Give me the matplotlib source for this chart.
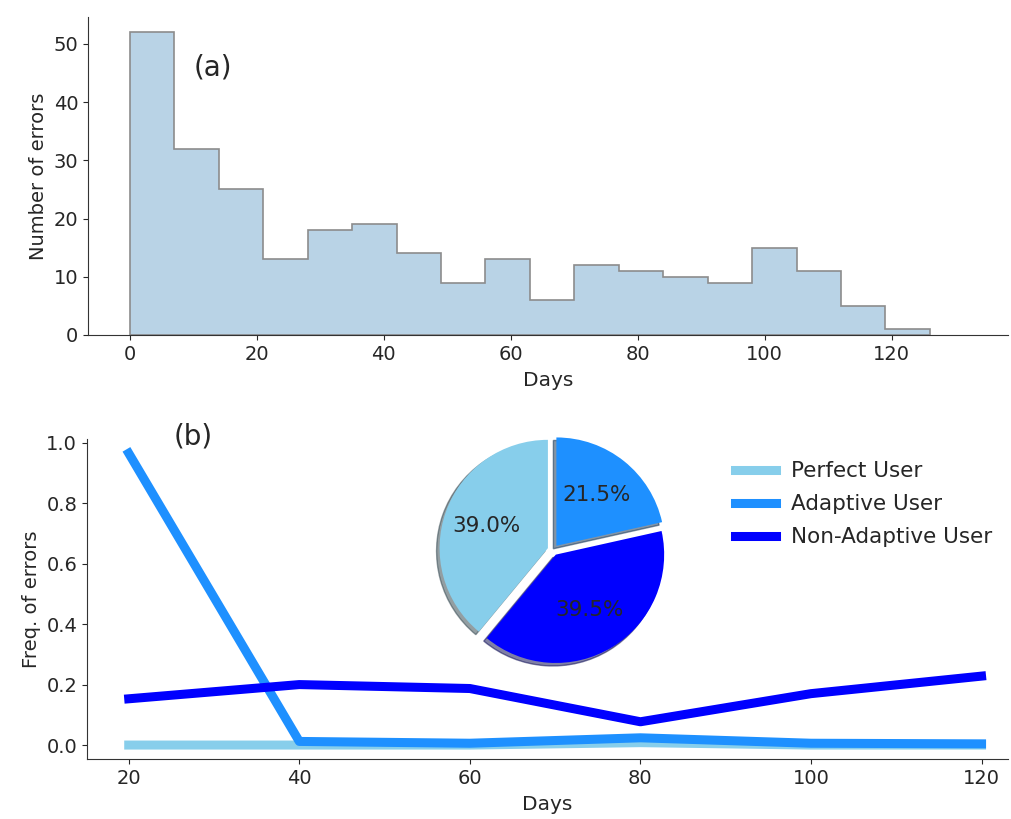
import numpy as np
import matplotlib
matplotlib.use("Agg")
import matplotlib.pyplot as plt

# (a) histogram of errors per 7-day bin
bin_edges = list(range(0, 127, 7))
error_counts = [52, 32, 25, 13, 18, 19, 14, 9, 13, 6, 12, 11, 10, 9, 15, 11, 5, 1]

# (b) error frequency per user type
days = [20, 40, 60, 80, 100, 120]
perfect_user = [0.0, 0.0, 0.0, 0.008, 0.0, 0.0]
adaptive_user = [0.965, 0.012, 0.006, 0.024, 0.006, 0.004]
non_adaptive_user = [0.153, 0.20, 0.187, 0.077, 0.170, 0.228]

pie_labels = ['Perfect User', 'Non-Adaptive User', 'Adaptive User']
pie_shares = [39.0, 39.5, 21.5]

c_perfect = '#87CEEB'
c_adaptive = '#1E90FF'
c_nonadaptive = '#0000FF'
text_col = '#262626'

plt.rcParams['font.family'] = 'DejaVu Sans'
plt.rcParams['text.color'] = text_col
plt.rcParams['axes.labelcolor'] = text_col
plt.rcParams['xtick.color'] = text_col
plt.rcParams['ytick.color'] = text_col
plt.rcParams['axes.edgecolor'] = '#333333'

fig = plt.figure(figsize=(10.11, 8.19), dpi=100)

# top panel
ax1 = fig.add_axes([0.087, 0.591, 0.910, 0.388])
ax1.hist(bin_edges[:-1], bins=bin_edges, weights=error_counts, histtype='stepfilled',
         facecolor='#b9d3e6', edgecolor='#8c8c8c', linewidth=1.2)
ax1.set_xlim(-6.6, 138.3)
ax1.set_ylim(0, 54.6)
ax1.set_xticks([0, 20, 40, 60, 80, 100, 120])
ax1.set_yticks([0, 10, 20, 30, 40, 50])
ax1.set_xlabel('Days', fontsize=14.5, labelpad=5)
ax1.set_ylabel('Number of errors', fontsize=14)
ax1.text(10, 46, '(a)', fontsize=20, va='center')
ax1.tick_params(labelsize=14)
ax1.spines['top'].set_visible(False)
ax1.spines['right'].set_visible(False)

# bottom panel
ax2 = fig.add_axes([0.086, 0.0733, 0.911, 0.391])
ax2.plot(days, perfect_user, color=c_perfect, lw=6.5, label='Perfect User')
ax2.plot(days, adaptive_user, color=c_adaptive, lw=6.5, label='Adaptive User')
ax2.plot(days, non_adaptive_user, color=c_nonadaptive, lw=6.5, label='Non-Adaptive User')
ax2.set_xlim(15.1, 123.1)
ax2.set_ylim(-0.046, 1.013)
ax2.set_xticks([20, 40, 60, 80, 100, 120])
ax2.set_yticks([0.0, 0.2, 0.4, 0.6, 0.8, 1.0])
ax2.set_xlabel('Days', fontsize=14.5, labelpad=5)
ax2.set_ylabel('Freq. of errors', fontsize=14)
ax2.text(25.3, 1.02, '(b)', fontsize=20, va='center')
ax2.tick_params(labelsize=14)
ax2.spines['top'].set_visible(False)
ax2.spines['right'].set_visible(False)
ax2.legend(loc='upper left', bbox_to_anchor=(0.683, 0.99), frameon=False,
           fontsize=15.5, handlelength=1.9, handletextpad=0.7, labelspacing=0.6)

# pie inset
pw = 260 / 1011
ph = 260 / 819
axp = fig.add_axes([553 / 1011 - pw / 2, 1 - 550 / 819 - ph / 2, pw, ph])
axp.pie(pie_shares, colors=[c_perfect, c_nonadaptive, c_adaptive],
        explode=[0.05, 0.05, 0.05], startangle=90, shadow=True,
        autopct='%1.1f%%', textprops={'fontsize': 15.5, 'color': text_col})
axp.set_xlim(-1.2, 1.2)
axp.set_ylim(-1.2, 1.2)
axp.set_aspect('equal')

fig.savefig('out.png', dpi=100)
